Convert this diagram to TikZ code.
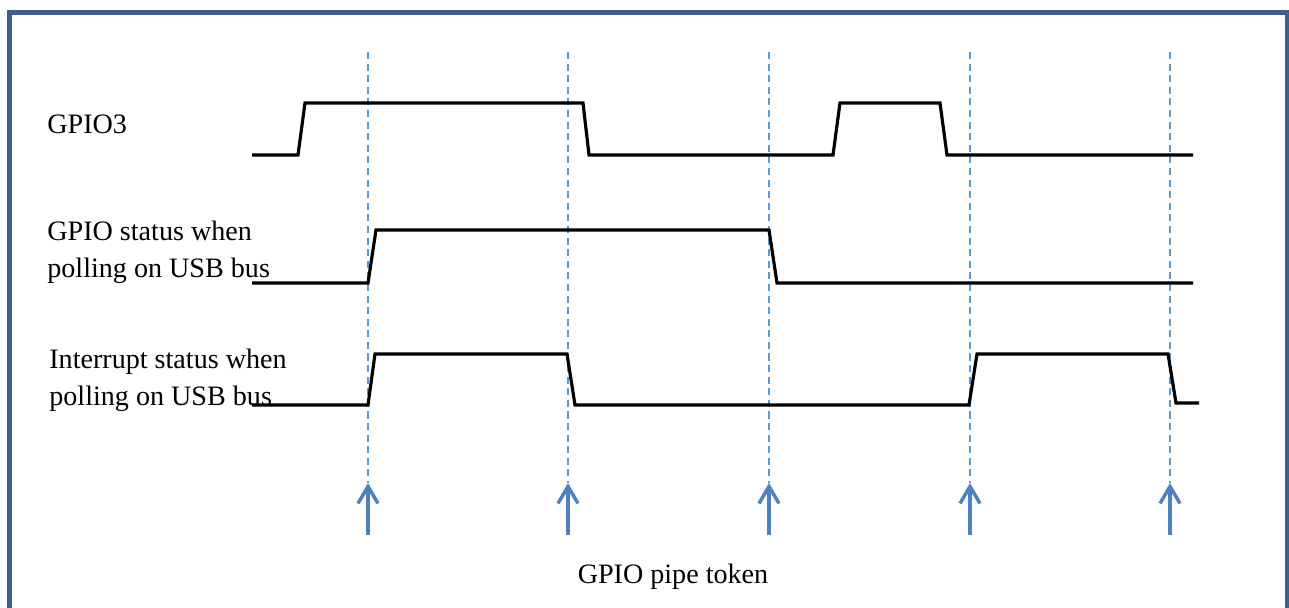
\documentclass[tikz,border=0pt]{standalone}
\usepackage{fontspec}
\setmainfont{Liberation Serif}
\usetikzlibrary{positioning, arrows.meta}
\definecolor{framed}{HTML}{3C5F8E}
\definecolor{tokenblue}{HTML}{4F81BD}
\definecolor{gridblue}{HTML}{5B9BD5}

\begin{document}
\begin{tikzpicture}[x = 0.02cm, y = -0.02cm]

\tikzset{
signal/.style = {line width = 1.8pt, line join = miter, draw = black},
tick/.style = {dash pattern = on 4pt off 2.6pt, line width = 0.6pt, draw = gridblue},
token/.style = {-{Straight Barb[length = 3.4mm, width = 4mm]}, line width = 2pt,
	draw = tokenblue},
label/.style = {anchor = west, align = left, inner sep = 0pt,
	font = \fontsize{16}{21}\selectfont},
}

\useasboundingbox (0,0) rectangle (1289,608);
\clip (0,0) rectangle (1289,608);

%% Frame
\draw [framed, line width = 2.4pt] (9.5,12.5) rectangle (1287,640);

%% Labels
\node [label] (gpio) at (47,124) {GPIO3};
\node [label] (poll) at (47,252) {GPIO status when\\polling on USB bus};
\node [label] (intr) at (49,380) {Interrupt status when\\polling on USB bus};
\node [font = \fontsize{16}{21}\selectfont, inner sep = 0pt] (pipe) at (673,577)
	{GPIO pipe token};

%% Tokens
\foreach \x [count = \i] in {368, 568, 769, 970, 1170} {
	\coordinate (top\i) at (\x,52);
	\coordinate (tip\i) at (\x,483);
	\coordinate (foot\i) at (\x,535);
	\draw [tick] (top\i) -- (tip\i);
	\draw [token] (foot\i) -- (tip\i);
}

%% Waveforms
% GPIO3
\draw [signal] (252,155) -- (298,155) -- (305,103) -- (583,103) -- (589,155)
	-- (833,155) -- (840,103) -- (940,103) -- (947,155) -- (1193,155);
% GPIO status
\draw [signal] (252,283) -- (368,283) -- (376,230) -- (769,230) -- (777,283)
	-- (1193,283);
% Interrupt status
\draw [signal] (252,405) -- (368,405) -- (375,354) -- (567,354) -- (575,405)
	-- (969,405) -- (977,354) -- (1168,354) -- (1176,403) -- (1199,403);

\end{tikzpicture}
\end{document}
